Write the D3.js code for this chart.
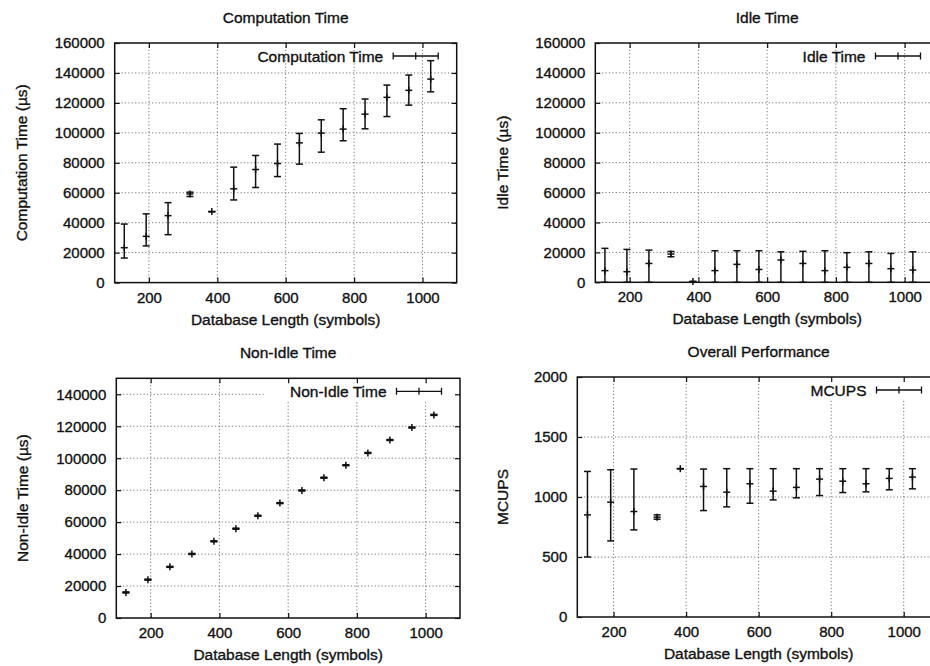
<!DOCTYPE html>
<html>
<head>
<meta charset="utf-8">
<script src="https://cdn.jsdelivr.net/npm/d3@7"></script>
<style>
    body { margin: 0; background: #fff; }
    svg text { font-family: "Liberation Sans", Arial, Helvetica, sans-serif; fill: #111; stroke: #111; stroke-width: 0.35px; }
</style>
</head>
<body>
<svg id="chart" width="930" height="666"></svg>
<script>
// ----- data
var dbLength = [128, 192, 256, 320, 384, 448, 512, 576, 640, 704, 768, 832, 896, 960, 1024];

var compMean = [23300, 30900, 44700, 59200, 47400, 62600, 75500, 79500, 93300, 99800, 102500, 112500, 123700, 128400, 135900];
var compLow  = [16400, 24500, 32000, 57500, 47400, 55200, 63500, 70800, 79100, 87100, 94700, 102700, 110900, 118500, 127400];
var compHigh = [39100, 45900, 53400, 60400, 47400, 77100, 84900, 92500, 99600, 108700, 116100, 122600, 131900, 138600, 148200];

var idleMean = [7800, 7100, 12600, 18900, 500, 7800, 12000, 8600, 14900, 12600, 7800, 10000, 12600, 9100, 8200];
var idleLow  = [0, 0, 0, 17100, 500, 0, 0, 0, 0, 0, 0, 0, 0, 0, 0];
var idleHigh = [22700, 22000, 21500, 20600, 500, 21100, 21100, 21100, 20400, 20700, 21100, 19800, 20400, 19300, 20400];

var nonIdleMean = [16000, 24000, 32000, 40100, 48000, 55900, 64000, 71900, 79800, 87800, 95600, 103300, 111400, 119200, 127100];
var nonIdleLow  = [15700, 23700, 31700, 39800, 47700, 55600, 63700, 71600, 79500, 87500, 95300, 103000, 111100, 118900, 126800];
var nonIdleHigh = [16300, 24300, 32300, 40400, 48300, 56200, 64300, 72200, 80100, 88100, 95900, 103600, 111700, 119500, 127400];

var mcupsMean = [851, 957, 879, 832, 1236, 1088, 1040, 1110, 1049, 1080, 1149, 1132, 1110, 1155, 1166];
var mcupsLow  = [500, 634, 726, 815, 1236, 887, 918, 948, 976, 993, 1012, 1037, 1043, 1060, 1068];
var mcupsHigh = [1213, 1227, 1233, 851, 1236, 1233, 1236, 1236, 1236, 1236, 1236, 1236, 1236, 1236, 1236];

var xTicks = [200, 400, 600, 800, 1000];
var timeTicks = [0, 20000, 40000, 60000, 80000, 100000, 120000, 140000, 160000];
var nonIdleTicks = [0, 20000, 40000, 60000, 80000, 100000, 120000, 140000];
var mcupsTicks = [0, 500, 1000, 1500, 2000];

var panels = [
    { title: "Computation Time", yTitle: "Computation Time (\u00b5s)", key: "Computation Time",
      mean: compMean, low: compLow, high: compHigh, yMax: 160000, yTicks: timeTicks,
      left: 114.7, right: 456.7, top: 43, bottom: 282.6, yTitleX: 27, opaqueKey: false },
    { title: "Idle Time", yTitle: "Idle Time (\u00b5s)", key: "Idle Time",
      mean: idleMean, low: idleLow, high: idleHigh, yMax: 160000, yTicks: timeTicks,
      left: 595.3, right: 939, top: 43, bottom: 282.3, yTitleX: 508, opaqueKey: false },
    { title: "Non-Idle Time", yTitle: "Non-Idle Time (\u00b5s)", key: "Non-Idle Time",
      mean: nonIdleMean, low: nonIdleLow, high: nonIdleHigh, yMax: 150000, yTicks: nonIdleTicks,
      left: 116.3, right: 460, top: 378.3, bottom: 618, yTitleX: 28, opaqueKey: true },
    { title: "Overall Performance", yTitle: "MCUPS", key: "MCUPS",
      mean: mcupsMean, low: mcupsLow, high: mcupsHigh, yMax: 2000, yTicks: mcupsTicks,
      left: 577.3, right: 940, top: 377, bottom: 617, yTitleX: 508, opaqueKey: true }
];

var svg = d3.select("#chart");
panels.forEach(drawPanel);

function drawPanel(p) {
    var g = svg.append("g");
    var x = d3.scaleLinear().domain([100, 1100]).range([p.left, p.right]);
    var y = d3.scaleLinear().domain([0, p.yMax]).range([p.bottom, p.top]);

    // ----- dotted grid (not on the frame)
    var grid = g.append("g").attr("stroke", "#555").attr("stroke-width", 0.8)
        .attr("stroke-dasharray", "1.2,2.2");
    grid.selectAll(".gx").data(xTicks).enter().append("line")
        .attr("x1", function (d) { return x(d); }).attr("x2", function (d) { return x(d); })
        .attr("y1", p.top).attr("y2", p.bottom);
    grid.selectAll(".gy").data(p.yTicks.filter(function (d) { return d > 0 && d < p.yMax; }))
        .enter().append("line")
        .attr("x1", p.left).attr("x2", p.right)
        .attr("y1", function (d) { return y(d); }).attr("y2", function (d) { return y(d); });

    // ----- key (sample + label)
    var sx2 = p.right - 18.5, sx1 = sx2 - 45, sy = p.top + 13;
    var keyText = g.append("text")
        .attr("x", sx1 - 10).attr("y", sy + 5.5)
        .attr("text-anchor", "end").style("font-size", "15.5px")
        .text(p.key);
    if (p.opaqueKey) {
        var tw = keyText.node().getComputedTextLength();
        g.insert("rect", "text")
            .attr("x", sx1 - 10 - tw - 26).attr("y", p.top)
            .attr("width", p.right - (sx1 - 10 - tw - 26)).attr("height", 23)
            .attr("fill", "#fff");
    }

    // ----- axes, ticks inward on all four sides
    var fmt = d3.format("d");
    g.append("g").attr("transform", "translate(0," + p.bottom + ")")
        .call(d3.axisBottom(x).tickValues(xTicks).tickFormat(fmt).tickSize(-5).tickPadding(9.5).tickSizeOuter(0))
        .call(styleAxis);
    g.append("g").attr("transform", "translate(0," + p.top + ")")
        .call(d3.axisTop(x).tickValues(xTicks).tickSize(-5).tickFormat("").tickSizeOuter(0))
        .call(styleAxis);
    g.append("g").attr("transform", "translate(" + p.left + ",0)")
        .call(d3.axisLeft(y).tickValues(p.yTicks).tickFormat(fmt).tickSize(-5).tickPadding(10).tickSizeOuter(0))
        .call(styleAxis);
    g.append("g").attr("transform", "translate(" + p.right + ",0)")
        .call(d3.axisRight(y).tickValues(p.yTicks).tickSize(-5).tickFormat("").tickSizeOuter(0))
        .call(styleAxis);

    g.append("rect")
        .attr("x", p.left).attr("y", p.top)
        .attr("width", p.right - p.left).attr("height", p.bottom - p.top)
        .attr("fill", "none").attr("stroke", "#111").attr("stroke-width", 1.5);

    // ----- titles
    var cx = (p.left + p.right) / 2;
    g.append("text").attr("x", cx).attr("y", p.top - 20)
        .attr("text-anchor", "middle").style("font-size", "15.5px").text(p.title);
    g.append("text").attr("x", cx).attr("y", p.bottom + 42)
        .attr("text-anchor", "middle").style("font-size", "15.5px").text("Database Length (symbols)");
    g.append("text")
        .attr("transform", "translate(" + p.yTitleX + "," + ((p.top + p.bottom) / 2) + ") rotate(-90)")
        .attr("text-anchor", "middle").style("font-size", "15.5px").text(p.yTitle);

    // ----- error bars
    var pts = dbLength.map(function (d, i) {
        return { x: d, m: p.mean[i], lo: p.low[i], hi: p.high[i] };
    });
    var marks = g.append("g").attr("stroke", "#111").attr("stroke-width", 1.5);
    var cap = 3.5, plus = 3.5;
    pts.forEach(function (d) {
        var px = x(d.x);
        marks.append("line").attr("x1", px).attr("x2", px).attr("y1", y(d.lo)).attr("y2", y(d.hi));
        marks.append("line").attr("x1", px - cap).attr("x2", px + cap).attr("y1", y(d.lo)).attr("y2", y(d.lo));
        marks.append("line").attr("x1", px - cap).attr("x2", px + cap).attr("y1", y(d.hi)).attr("y2", y(d.hi));
        marks.append("line").attr("x1", px - plus).attr("x2", px + plus).attr("y1", y(d.m)).attr("y2", y(d.m));
        marks.append("line").attr("x1", px).attr("x2", px).attr("y1", y(d.m) - plus).attr("y2", y(d.m) + plus);
    });

    // key sample
    var key = g.append("g").attr("stroke", "#111").attr("stroke-width", 1.3);
    var sm = (sx1 + sx2) / 2;
    key.append("line").attr("x1", sx1).attr("x2", sx2).attr("y1", sy).attr("y2", sy);
    key.append("line").attr("x1", sx1).attr("x2", sx1).attr("y1", sy - cap).attr("y2", sy + cap);
    key.append("line").attr("x1", sx2).attr("x2", sx2).attr("y1", sy - cap).attr("y2", sy + cap);
    key.append("line").attr("x1", sm).attr("x2", sm).attr("y1", sy - plus).attr("y2", sy + plus);
}

function styleAxis(sel) {
    sel.select(".domain").remove();
    sel.selectAll(".tick line").attr("stroke", "#111").attr("stroke-width", 1.2);
    sel.selectAll(".tick text").style("font-size", "15px").attr("fill", "#111");
}
</script>
</body>
</html>
